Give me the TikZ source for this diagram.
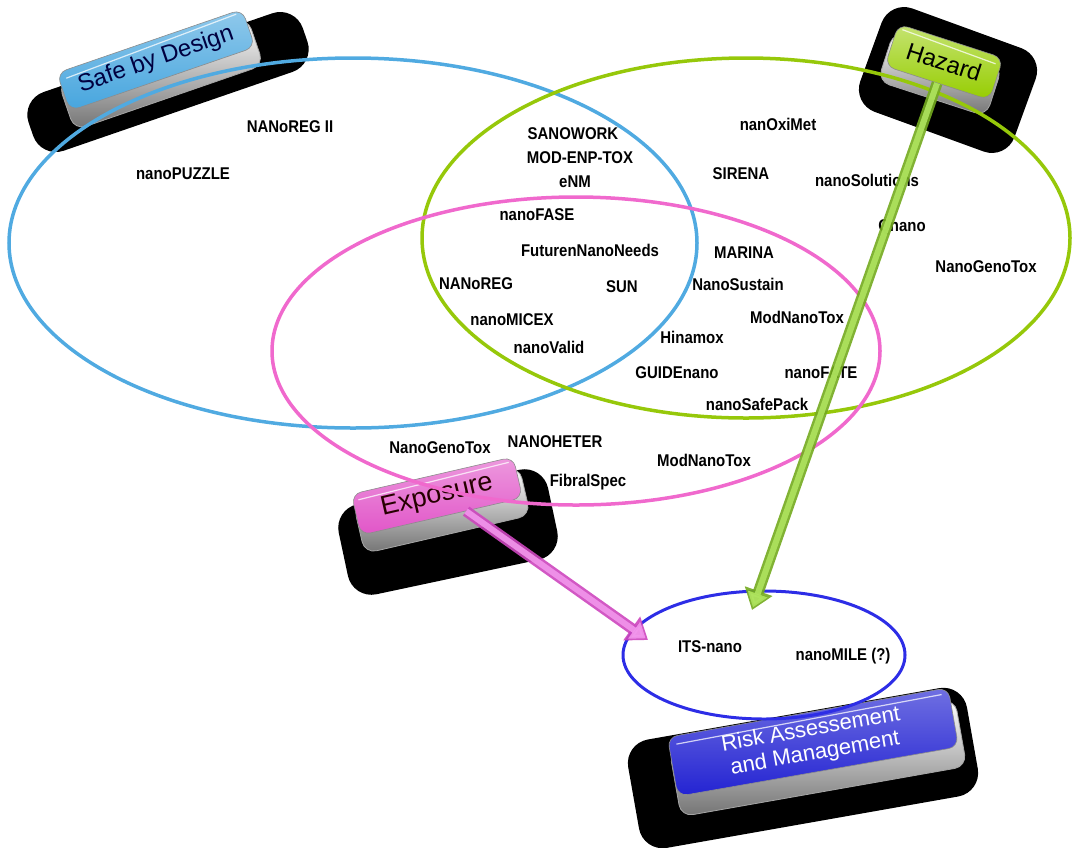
\documentclass[tikz,border=0pt]{standalone}
\usepackage{fontspec}
\setmainfont{Liberation Sans}
\newfontfamily\labfont[FakeStretch=0.88]{Liberation Sans}
\usetikzlibrary{shapes.geometric,arrows.meta,calc}
\definecolor{sbdblue}{RGB}{70,165,222}
\definecolor{hazgreen}{RGB}{150,205,0}
\definecolor{exppink}{RGB}{225,85,200}
\definecolor{rskblue}{RGB}{35,35,210}
\definecolor{ellblue}{RGB}{80,170,225}
\definecolor{ellgreen}{RGB}{150,200,10}
\definecolor{ellpink}{RGB}{240,105,205}
\definecolor{ellnavy}{RGB}{45,45,230}
\definecolor{gdark}{RGB}{115,170,30}
\definecolor{glight}{RGB}{175,228,95}
\definecolor{pdark}{RGB}{205,70,190}
\definecolor{plight}{RGB}{242,150,236}
\begin{document}
\begin{tikzpicture}[x=1pt,y=-1pt,
  lab/.style={font=\labfont\bfseries\fontsize{17}{17}\selectfont, inner sep=0pt},
  shadowpath/.style={fill=black, rounded corners=24pt},
  chromepath/.style={rounded corners=12pt, top color=white, bottom color=black!55, draw=black!35, line width=0.8pt},
  facebox/.style={rounded corners=10pt, draw=white!55!black, line width=0.6pt, inner sep=0pt},
  ell/.style={ellipse, line width=3.5pt, inner sep=0pt},
  hl/.style={white, line width=1.2pt, opacity=0.75}
]
\useasboundingbox (0,0) rectangle (1073,847);

% ---------- Safe by Design ----------
\fill[shadowpath, shift={(168,82)}, rotate=19] (-145,-31) rectangle (145,31);
\path[chromepath, shift={(161,74)}, rotate=19] (-100,-25) rectangle (100,25);
\node[facebox, rotate=19, minimum width=196, minimum height=40, top color=sbdblue!60!white, bottom color=sbdblue, text=black!75!blue, font=\fontsize{24}{24}\selectfont] (sbd) at (156,60) {Safe by Design};
\draw[hl] ($(sbd.north west)!0.14!(sbd.south west)+(8,0)$) -- ($(sbd.north east)!0.14!(sbd.south east)+(-8,0)$);

% ---------- Hazard ----------
\fill[shadowpath, shift={(948,80)}, rotate=-20] (-82,-55) rectangle (82,55);
\path[chromepath, shift={(940,74)}, rotate=-18] (-57,-26) rectangle (57,26);
\node[facebox, rotate=-18, minimum width=110, minimum height=44, top color=hazgreen!55!white, bottom color=hazgreen, text=black, font=\fontsize{24}{24}\selectfont] (haz) at (944,62) {Hazard};
\draw[hl] ($(haz.north west)!0.14!(haz.south west)+(6,0)$) -- ($(haz.north east)!0.14!(haz.south east)+(-6,0)$);

% ---------- Exposure ----------
\fill[shadowpath, shift={(448,532)}, rotate=12] (-107,-46) rectangle (107,46);
\path[chromepath, shift={(442,510)}, rotate=13] (-85,-25) rectangle (85,25);
\node[facebox, rotate=13, minimum width=166, minimum height=42, top color=exppink!60!white, bottom color=exppink, text=black!85!red, font=\fontsize{27}{27}\selectfont] (exp) at (437,496) {Exposure};
\draw[hl] ($(exp.north west)!0.14!(exp.south west)+(6,0)$) -- ($(exp.north east)!0.14!(exp.south east)+(-6,0)$);

% ---------- Risk ----------
\fill[shadowpath, shift={(803,768)}, rotate=10] (-172,-55) rectangle (172,55);
\path[chromepath, shift={(818,758)}, rotate=10] (-145,-34) rectangle (145,34);
\node[facebox, rotate=10, minimum width=285, minimum height=60, top color=rskblue!65!white, bottom color=rskblue, text=white, align=center, font=\fontsize{22}{24}\selectfont] (rsk) at (813,742) {Risk Assessement\\and Management};
\draw[hl] ($(rsk.north west)!0.12!(rsk.south west)+(8,0)$) -- ($(rsk.north east)!0.12!(rsk.south east)+(-8,0)$);

% ---------- Ellipses ----------
\node[ell, draw=ellblue, minimum width=688, minimum height=370] (sbd-ell) at (353,243) {};
\node[ell, draw=ellgreen, minimum width=648, minimum height=360] (haz-ell) at (746,238) {};
\node[ell, draw=ellpink, minimum width=608, minimum height=308] (exp-ell) at (576,351) {};
\node[ell, draw=ellnavy, line width=3pt, minimum width=282, minimum height=128] (rsk-ell) at (764,655) {};

% ---------- Labels ----------
\node[lab] (l1) at (290,127) {NANoREG II};
\node[lab] (l2) at (183,174) {nanoPUZZLE};
\node[lab] (l3) at (573,134) {SANOWORK};
\node[lab] (l4) at (580,158) {MOD-ENP-TOX};
\node[lab] (l5) at (575,182) {eNM};
\node[lab] (l6) at (537,215) {nanoFASE};
\node[lab] (l7) at (590,250) {FuturenNanoNeeds};
\node[lab] (l8) at (476,284) {NANoREG};
\node[lab] (l9) at (622,287) {SUN};
\node[lab] (l10) at (512,320) {nanoMICEX};
\node[lab] (l11) at (549,347) {nanoValid};
\node[lab] (l12) at (778,124) {nanOxiMet};
\node[lab] (l13) at (741,174) {SIRENA};
\node[lab] (l14) at (867,180) {nanoSolutions};
\node[lab] (l15) at (902,227) {Qnano};
\node[lab] (l16) at (986,267) {NanoGenoTox};
\node[lab] (l17) at (744,253) {MARINA};
\node[lab] (l18) at (738,284) {NanoSustain};
\node[lab] (l19) at (797,317) {ModNanoTox};
\node[lab] (l20) at (692,337) {Hinamox};
\node[lab] (l21) at (677,373) {GUIDEnano};
\node[lab] (l22) at (821,373) {nanoFATE};
\node[lab] (l23) at (757,404) {nanoSafePack};
\node[lab] (l24) at (440,448) {NanoGenoTox};
\node[lab] (l25) at (555,442) {NANOHETER};
\node[lab] (l26) at (704,460) {ModNanoTox};
\node[lab] (l27) at (588,482) {FibralSpec};
\node[lab] (l28) at (710,647) {ITS-nano};
\node[lab] (l29) at (843,656) {nanoMILE (?)};

% ---------- Arrows ----------
\coordinate (gtip) at (752,610);
\coordinate (pstart) at ($(exp.south)!0.3!(exp.south east)$);
\coordinate (ptip) at (648,640);
\draw[draw=gdark, line width=11pt, opacity=0.9, -{Triangle[width=28pt,length=20pt]}] (haz.south) -- (gtip);
\draw[draw=glight, line width=6pt, opacity=0.9, shorten >=3pt, -{Triangle[width=20pt,length=14pt]}] (haz.south) -- (gtip);
\draw[draw=pdark, line width=11pt, opacity=0.9, -{Triangle[width=28pt,length=20pt]}] (pstart) -- (ptip);
\draw[draw=plight, line width=6pt, opacity=0.9, shorten >=3pt, -{Triangle[width=20pt,length=14pt]}] (pstart) -- (ptip);
\end{tikzpicture}
\end{document}
